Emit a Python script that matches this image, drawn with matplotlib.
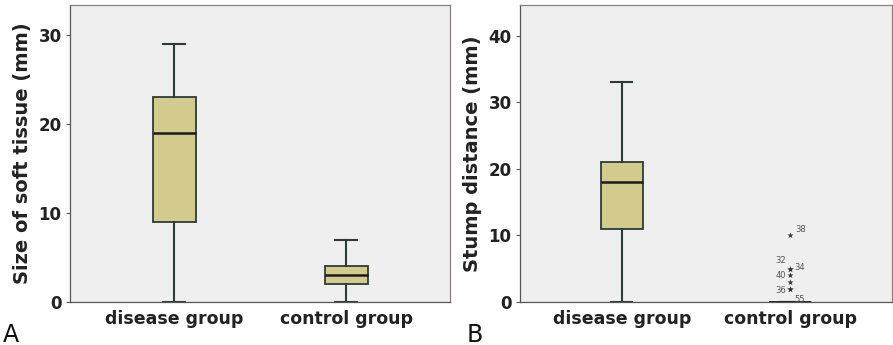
import matplotlib
matplotlib.use("Agg")
import matplotlib.pyplot as plt

categories = ["disease group", "control group"]

# Panel A: Size of soft tissue (mm)
a_whislo = [0, 0]
a_q1 = [9, 2]
a_med = [19, 3]
a_q3 = [23, 4]
a_whishi = [29, 7]

# Panel B: Stump distance (mm)
b_whislo = [0, 0]
b_q1 = [11, 0]
b_med = [18, 0]
b_q3 = [21, 0]
b_whishi = [33, 0]
b_outliers_control = [10, 5, 5, 4, 3, 2, 2]
b_outlier_ids = ["38", "32", "34", "40", "", "36", "55"]

box_fill = "#D3CB8E"
edge = "#2C3B3A"
bg = "#EFEFEF"
frame = "#8C7F7F"

fig = plt.figure(figsize=(8.93, 3.45), dpi=100)
axA = fig.add_axes([0.0784, 0.1246, 0.4256, 0.861])
axB = fig.add_axes([0.5823, 0.1246, 0.4167, 0.861])


def make_stats(wl, q1, med, q3, wh):
    out = []
    for i in range(len(wl)):
        out.append(dict(whislo=wl[i], q1=q1[i], med=med[i], q3=q3[i], whishi=wh[i], fliers=[]))
    return out


def draw(ax, stats, ylim, yticks, ylabel):
    ax.set_facecolor(bg)
    ax.bxp(stats, positions=[1, 2], widths=0.25, capwidths=0.125, patch_artist=True,
           showfliers=False,
           boxprops=dict(facecolor=box_fill, edgecolor=edge, linewidth=1.3),
           medianprops=dict(color="#1a1a1a", linewidth=1.8),
           whiskerprops=dict(color=edge, linewidth=1.5),
           capprops=dict(color=edge, linewidth=1.5))
    ax.set_xlim(0.395, 2.605)
    ax.set_ylim(*ylim)
    ax.set_yticks(yticks)
    ax.set_yticklabels([str(t) for t in yticks], fontsize=12, fontweight="bold", color="#222222")
    ax.set_xticks([1, 2])
    ax.set_xticklabels(categories, fontsize=12.5, fontweight="bold", color="#222222")
    ax.tick_params(axis="x", length=0, pad=6)
    ax.tick_params(axis="y", length=3, width=0.8, color="#555555", pad=3)
    ax.set_ylabel(ylabel, fontsize=14, fontweight="bold", color="#222222", labelpad=5)
    for s in ax.spines.values():
        s.set_color(frame)
        s.set_linewidth(0.9)
    ax.spines["bottom"].set_color("#555555")
    ax.spines["left"].set_color("#555555")


draw(axA, make_stats(a_whislo, a_q1, a_med, a_q3, a_whishi), (0, 33.4), [0, 10, 20, 30],
     "Size of soft tissue (mm)")
draw(axB, make_stats(b_whislo, b_q1, b_med, b_q3, b_whishi), (0, 44.6), [0, 10, 20, 30, 40],
     "Stump distance (mm)")

# outliers in panel B (control group)
xs = [2] * len(b_outliers_control)
axB.scatter(xs, b_outliers_control, marker="*", s=22, color="#333333", zorder=5, linewidths=0)
offsets = {"38": (4, 4, "left"), "32": (-3, 6, "right"), "34": (3, 1, "left"),
           "40": (-3, 0, "right"), "36": (-3, -1, "right"), "55": (3, -8, "left")}
for v, lab in zip(b_outliers_control, b_outlier_ids):
    if not lab:
        continue
    dx, dy, ha = offsets[lab]
    axB.annotate(lab, (2, v), xytext=(dx, dy), textcoords="offset points", ha=ha,
                 va="center", fontsize=6, color="#555555")

fig.text(0.003, 0.01, "A", fontsize=17, color="#111111")
fig.text(0.522, 0.01, "B", fontsize=17, color="#111111")

fig.savefig("out.png", dpi=100)
